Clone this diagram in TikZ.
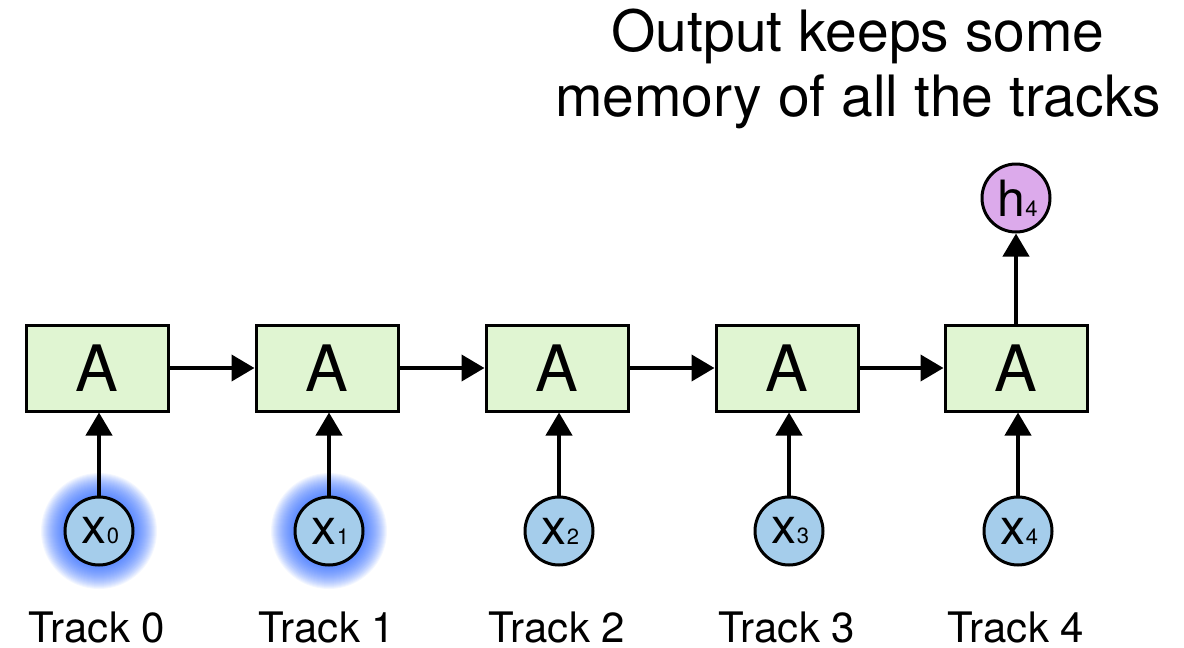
\documentclass[tikz,border=0pt]{standalone}
\usepackage{fontspec}
\setmainfont{TeX Gyre Heros}
\usetikzlibrary{arrows.meta}
\definecolor{boxgreen}{RGB}{224,245,210}
\definecolor{inblue}{RGB}{165,205,235}
\definecolor{outpurple}{RGB}{220,170,235}
\definecolor{glowblue}{RGB}{40,100,255}
\newcommand{\subdigit}[1]{\fontsize{22}{22}\selectfont #1}
\begin{document}
\begin{tikzpicture}[x=1pt,y=-1pt,
  cell/.style={draw=black, line width=3pt, fill=boxgreen, minimum width=142pt, minimum height=86pt, inner sep=0pt, font=\fontsize{64}{64}\selectfont},
  innode/.style={circle, draw=black, line width=3pt, fill=inblue, minimum size=68pt, inner sep=0pt, font=\fontsize{50}{50}\selectfont},
  outnode/.style={circle, draw=black, line width=3pt, fill=outpurple, minimum size=68pt, inner sep=0pt, font=\fontsize{50}{50}\selectfont},
  lbl/.style={font=\fontsize{42}{42}\selectfont, inner sep=0pt},
  arr/.style={line width=4pt, -{Triangle[length=23pt,width=26pt]}}]
\useasboundingbox (0,0) rectangle (1184,648);
% glows
\foreach \cx in {99,329}{
  \foreach \r in {35,36,...,58}{
    \fill[glowblue, opacity=0.055] (\cx,531) circle (\r);
  }
}
\foreach \i/\cx in {0/97,1/327,2/557,3/787,4/1016}{
  \node[cell] (a\i) at (\cx,368) {A};
  \node[innode] (x\i) at (\cx+2,531) {\hspace{3pt}x\subdigit{\i}};
  \node[lbl] (t\i) at (\cx,627) {Track \i};
}
\node[outnode] (h4) at (1016,198) {\hspace{3pt}h\subdigit{4}};
\foreach \i in {0,...,4}{
  \draw[arr] (x\i) -- (a\i.south -| x\i);
}
\draw[arr] (a0) -- (a1);
\draw[arr] (a1) -- (a2);
\draw[arr] (a2) -- (a3);
\draw[arr] (a3) -- (a4);
\draw[arr] (a4) -- (h4);
\node[font=\fontsize{57}{65}\selectfont, align=center, inner sep=0pt] (title) at (858,69) {Output keeps some\\memory of all the tracks};
\end{tikzpicture}
\end{document}
